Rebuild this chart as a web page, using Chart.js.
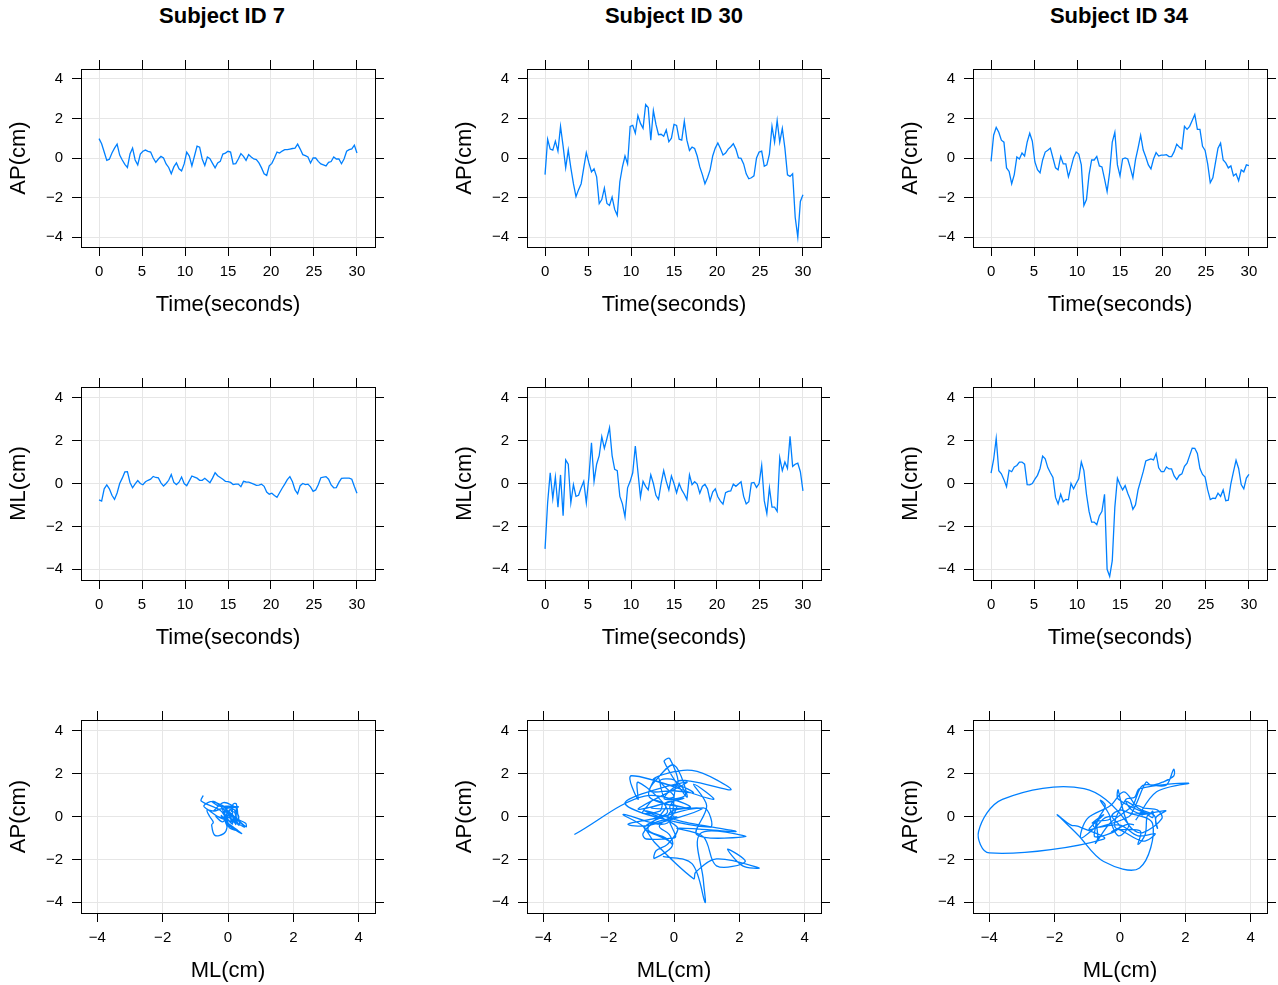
<!DOCTYPE html>
<html>
<head>
<meta charset="utf-8">
<title>Postural sway</title>
<script src="https://cdn.jsdelivr.net/npm/chart.js@4.4.0/dist/chart.umd.min.js"></script>
<style>
    body { margin: 0; background: #fff; width: 1278px; height: 985px; overflow: hidden; position: relative; }
    canvas { position: absolute; }
    .title { position: absolute; top: 3px; width: 240px; text-align: center; line-height: 22px;
             font: bold 22px "Liberation Sans", Arial, sans-serif; color: #000; }
</style>
</head>
<body>
<div class="title" style="left:102px">Subject ID 7</div>
<div class="title" style="left:554px">Subject ID 30</div>
<div class="title" style="left:999px">Subject ID 34</div>

<script>
// sample times (seconds), read every 0.3 s off the traces
const times = [0,0.3,0.6,0.9,1.2,1.5,1.8,2.1,2.4,2.7,3,3.3,3.6,3.9,4.2,4.5,4.8,5.1,5.4,5.7,
    6,6.3,6.6,6.9,7.2,7.5,7.8,8.1,8.4,8.7,9,9.3,9.6,9.9,10.2,10.5,10.8,11.1,11.4,11.7,
    12,12.3,12.6,12.9,13.2,13.5,13.8,14.1,14.4,14.7,15,15.3,15.6,15.9,16.2,16.5,16.8,17.1,17.4,17.7,
    18,18.3,18.6,18.9,19.2,19.5,19.8,20.1,20.4,20.7,21,21.3,21.6,21.9,22.2,22.5,22.8,23.1,23.4,23.7,
    24,24.3,24.6,24.9,25.2,25.5,25.8,26.1,26.4,26.7,27,27.3,27.6,27.9,28.2,28.5,28.8,29.1,29.4,29.7,30];

const subjects = ['Subject ID 7', 'Subject ID 30', 'Subject ID 34'];

// anterior-posterior sway (cm)
const ap7 = [0.98,0.72,0.3,-0.12,-0.06,0.25,0.5,0.7,0.15,-0.1,
    -0.32,-0.48,0.2,0.5,-0.1,-0.35,0.2,0.34,0.4,0.34,
    0.3,0,-0.22,-0.05,0.08,0,-0.3,-0.48,-0.8,-0.45,
    -0.25,-0.55,-0.65,-0.3,0.3,0.1,-0.4,0.1,0.6,0.55,
    -0.05,-0.38,0.05,-0.03,-0.27,-0.5,-0.25,-0.17,0.2,0.25,
    0.34,0.3,-0.3,-0.28,-0.05,0.22,0.08,-0.12,0.17,0.05,
    -0.05,-0.08,-0.25,-0.5,-0.8,-0.88,-0.4,-0.27,0,0.3,
    0.25,0.35,0.42,0.42,0.45,0.48,0.5,0.7,0.45,0.17,
    0.12,0.05,-0.25,0,0,-0.17,-0.3,-0.35,-0.4,-0.22,
    -0.18,0.05,-0.05,-0.05,-0.29,-0.05,0.34,0.42,0.46,0.65,
    0.25];
const ap30 = [-0.84,0.95,0.45,0.4,0.85,0.35,1.6,0.6,-0.5,0.4,
    -0.5,-1.3,-1.95,-1.6,-1.3,-0.5,0.27,-0.25,-0.7,-0.55,
    -0.95,-2.3,-2.1,-1.52,-2.3,-2.4,-1.98,-2.6,-2.9,-1.2,
    -0.45,0.1,-0.3,1.6,1.65,1.25,2.15,1.75,1.5,2.7,
    2.55,0.9,2.4,1.7,1.18,1.2,1.1,1.42,0.82,1.0,
    1.7,1.65,0.95,0.9,1.86,0.9,0.38,0.55,0.48,0.1,
    -0.45,-0.84,-1.3,-1.0,-0.6,0.1,0.5,0.76,0.48,0.15,
    0.25,0.45,0.57,0.72,0.45,0,-0.02,-0.3,-0.8,-1.05,
    -1.0,-0.9,0,0.3,0.35,-0.42,-0.35,0.2,1.6,0.8,
    1.9,0.8,1.5,0.5,-0.85,-0.93,-0.8,-3.0,-4.0,-2.2,
    -1.86];
const ap34 = [-0.17,1.15,1.55,1.3,0.9,0.8,-0.5,-0.68,-1.3,-0.84,
    0.05,-0.05,0.25,0.1,0.8,1.25,0.85,-0.2,-0.59,-0.75,
    -0.1,0.3,0.39,0.5,0,-0.5,-0.6,0.08,-0.3,-0.3,
    -0.95,-0.5,0.02,0.3,0.2,-0.35,-2.4,-2.1,-0.84,-0.1,
    -0.1,0.08,-0.4,-0.45,-1.05,-1.7,-0.7,0.8,1.3,-0.35,
    -0.9,-0.05,0,-0.05,-0.5,-1.0,-0.1,0.5,1.15,0.4,
    0.05,-0.35,-0.55,-0.05,0.27,0.1,0.15,0.15,0.17,0.07,
    0.07,0.32,0.7,0.55,0.45,1.6,1.45,1.6,1.9,2.2,
    1.45,1.45,0.59,0.38,-0.3,-1.25,-1.0,-0.25,0.5,0.75,
    -0.1,-0.25,-0.5,-0.4,-0.9,-0.8,-1.15,-0.6,-0.7,-0.35,
    -0.39];

// medio-lateral sway (cm)
const ml7 = [-0.76,-0.82,-0.25,-0.07,-0.25,-0.55,-0.74,-0.44,0,0.25,
    0.54,0.55,0.05,-0.2,-0.02,0.14,0,-0.06,0.08,0.15,
    0.2,0.33,0.28,0.26,0.03,-0.12,0,0.15,0.42,0.05,
    -0.05,0.06,0.3,0,-0.1,0.12,0.35,0.3,0.25,0.15,
    0.15,0.24,0.14,0.04,0.25,0.5,0.36,0.28,0.2,0.1,
    0.09,0.05,-0.05,-0.03,-0.03,-0.15,0.1,0.07,0.06,0.02,
    -0.03,-0.09,-0.08,-0.03,-0.13,-0.4,-0.5,-0.45,-0.56,-0.64,
    -0.43,-0.22,-0.03,0.18,0.32,0.08,-0.3,-0.48,-0.1,0,
    -0.05,-0.03,-0.16,-0.37,-0.3,-0.06,0.27,0.3,0.32,0.2,
    -0.07,-0.2,-0.19,0.05,0.24,0.25,0.25,0.25,0.2,-0.14,
    -0.45];
const ml30 = [-3.05,-0.9,0.5,-0.7,0.3,-1.1,0.4,-1.5,1.1,0.9,
    -0.9,-0.05,-0.6,-0.55,-0.2,0.1,-0.9,0.3,1.9,0.1,
    0.9,1.3,2.18,1.64,2.1,2.6,1.3,0.66,0.6,-0.6,
    -0.95,-1.55,-0.2,0.1,0.5,1.75,0.55,-0.63,0.1,-0.13,
    -0.3,0.4,0,-0.55,-0.74,0,0.6,0.1,-0.3,0.35,
    0,-0.43,0,-0.3,-0.5,-0.75,0.4,-0.05,0.08,-0.03,
    -0.45,-0.14,-0.04,-0.25,-0.8,-0.4,-0.25,-0.62,-0.82,-0.96,
    -0.43,-0.37,-0.35,-0.03,-0.13,-0.02,0.08,-0.6,-0.95,-0.85,
    0.02,0.05,-0.18,0,0.85,-0.8,-1.4,-0.2,-1.1,-1.1,
    -1.3,1.2,0.6,1.0,0.7,2.2,0.8,0.9,0.95,0.55,
    -0.34];
const ml34 = [0.48,1.12,2.1,0.6,0.45,0.18,-0.15,0.62,0.55,0.77,
    0.84,1.0,1.0,0.9,-0.05,-0.06,0,0.2,0.38,0.7,
    1.28,1.15,0.74,0.5,0.28,-0.65,-0.95,-0.5,-0.85,-0.74,
    -0.76,0,-0.25,0,0.22,1.0,0.6,-0.5,-1.3,-1.8,
    -1.8,-1.92,-1.5,-1.3,-0.5,-4.0,-4.33,-3.6,-1.1,0.25,
    -0.05,-0.3,-0.1,-0.45,-0.75,-1.2,-1.0,-0.3,0.12,0.55,
    1.05,1.1,1.15,1.1,1.4,0.73,0.55,0.55,0.77,0.68,
    0.68,0.35,0.18,0.38,0.45,0.8,0.95,1.3,1.65,1.64,
    1.4,0.7,0.42,0.3,-0.3,-0.75,-0.68,-0.7,-0.45,-0.6,
    -0.3,-0.8,-0.78,0,0.55,1.08,0.7,-0.05,-0.25,0.25,
    0.43];

const apSeries = [ap7, ap30, ap34];
const mlSeries = [ml7, ml30, ml34];

const FONT = '"Liberation Sans", Arial, sans-serif';
const LINE_COLOR = '#0080ff';

// canvas / plot box geometry
const colLeft = [0, 446, 892];
const rowBoxTop = [69, 387, 720];
const rowBoxH = [178, 193, 193];
const AXIS_LEFT = 81, AXIS_RIGHT = 10, AXIS_TOP = 10, AXIS_BOTTOM = 71;
const BOX_W = 294;

const fmt = v => v < 0 ? '\u2212' + Math.abs(v) : String(v);

// fix the axis box size and drop the label overhang padding so the plot box lands exactly
function fixSize(horiz, size) {
    return s => {
        if (horiz) s.height = size; else s.width = size;
        s.paddingTop = 0; s.paddingBottom = 0; s.paddingLeft = 0; s.paddingRight = 0;
    };
}

function mainAxis(pos, min, max, step, title, size) {
    const horiz = pos === 'bottom';
    return {
        type: 'linear', position: pos, min: min, max: max,
        ticks: {
            stepSize: step, includeBounds: false, autoSkip: false, maxRotation: 0,
            padding: horiz ? 6.5 : 9, color: '#000',
            font: { family: FONT, size: 15 }, callback: fmt
        },
        grid: { color: '#e6e6e6', lineWidth: 1, tickColor: '#000', tickLength: 9 },
        border: { display: true, color: '#000', width: 1 },
        title: {
            display: true, text: title, color: '#000',
            font: { family: FONT, size: 22 },
            padding: horiz ? { top: 0, bottom: 0 } : { top: 6, bottom: 0 }
        },
        afterFit: fixSize(horiz, size)
    };
}

function sideAxis(pos, min, max, step, size) {
    const horiz = pos === 'top';
    return {
        type: 'linear', position: pos, min: min, max: max,
        ticks: { stepSize: step, includeBounds: false, display: false },
        grid: { color: 'rgba(0,0,0,0)', tickColor: '#000', tickLength: 9, drawOnChartArea: false },
        border: { display: true, color: '#000', width: 1 },
        afterFit: fixSize(horiz, size)
    };
}

function makePanel(row, col, points, xCfg, yCfg, tension) {
    const canvas = document.createElement('canvas');
    const w = AXIS_LEFT + BOX_W + AXIS_RIGHT;
    const h = AXIS_TOP + rowBoxH[row] + AXIS_BOTTOM;
    canvas.width = w;
    canvas.height = h;
    canvas.style.left = colLeft[col] + 'px';
    canvas.style.top = (rowBoxTop[row] - AXIS_TOP) + 'px';
    canvas.style.width = w + 'px';
    canvas.style.height = h + 'px';
    document.body.appendChild(canvas);

    new Chart(canvas.getContext('2d'), {
        type: 'scatter',
        data: {
            datasets: [{
                label: subjects[col],
                data: points,
                showLine: true,
                borderColor: LINE_COLOR,
                borderWidth: 1.3,
                pointRadius: 0,
                tension: tension,
                fill: false
            }]
        },
        options: {
            responsive: false,
            animation: false,
            devicePixelRatio: 1,
            events: [],
            layout: { padding: 0 },
            plugins: { legend: { display: false }, tooltip: { enabled: false } },
            scales: {
                x: mainAxis('bottom', xCfg.min, xCfg.max, xCfg.step, xCfg.title, AXIS_BOTTOM),
                y: mainAxis('left', yCfg.min, yCfg.max, yCfg.step, yCfg.title, AXIS_LEFT),
                x2: sideAxis('top', xCfg.min, xCfg.max, xCfg.step, AXIS_TOP),
                y2: sideAxis('right', yCfg.min, yCfg.max, yCfg.step, AXIS_RIGHT)
            }
        }
    });
}

const timeAxis = { min: -2.1, max: 32.1, step: 5, title: 'Time(seconds)' };
const apAxis = { min: -4.5, max: 4.5, step: 2, title: 'AP(cm)' };
const mlAxis = { min: -4.5, max: 4.5, step: 2, title: 'ML(cm)' };

for (let c = 0; c < 3; c++) {
    const ap = apSeries[c], ml = mlSeries[c];
    makePanel(0, c, times.map((t, i) => ({ x: t, y: ap[i] })), timeAxis, apAxis, 0);
    makePanel(1, c, times.map((t, i) => ({ x: t, y: ml[i] })), timeAxis, mlAxis, 0);
    makePanel(2, c, ml.map((m, i) => ({ x: m, y: ap[i] })), mlAxis, apAxis, 0.35);
}
</script>
</body>
</html>
